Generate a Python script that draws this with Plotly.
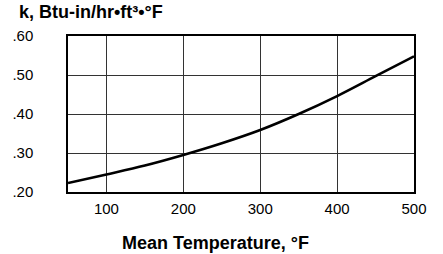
import plotly.graph_objects as go

temps = [50, 100, 150, 200, 250, 300, 350, 400, 450, 500]
k_values = [0.223, 0.245, 0.268, 0.295, 0.325, 0.359, 0.400, 0.446, 0.497, 0.548]
x_ticks = [100, 200, 300, 400, 500]
y_ticks = [0.20, 0.30, 0.40, 0.50, 0.60]
y_tick_labels = [".20", ".30", ".40", ".50", ".60"]

FONT = "Liberation Sans, Arial, sans-serif"
L, R, T, B = 68, 29, 36, 62
W, H = 443, 254
pw, ph = W - L - R, H - T - B

fig = go.Figure()
fig.add_trace(go.Scatter(x=temps, y=k_values, mode="lines",
                         line=dict(color="black", width=2.6, shape="spline"),
                         showlegend=False, hoverinfo="skip"))

fig.update_layout(
    width=W, height=H,
    margin=dict(l=L, r=R, t=T, b=B),
    paper_bgcolor="white", plot_bgcolor="white",
    font=dict(family=FONT, size=15, color="black"),
    xaxis=dict(range=[50, 500], tickvals=x_ticks, showgrid=True,
               gridcolor="#333333", gridwidth=1, zeroline=False,
               showline=True, linecolor="black", linewidth=1.5, mirror=True,
               ticks="", ticklabelstandoff=2, tickfont=dict(size=15)),
    yaxis=dict(range=[0.20, 0.60], tickvals=y_ticks, ticktext=y_tick_labels,
               showgrid=True, gridcolor="#333333", gridwidth=1, zeroline=False,
               showline=True, linecolor="black", linewidth=1.5, mirror=True,
               ticks="", ticklabelstandoff=30, tickfont=dict(size=15)),
    annotations=[
        dict(text="<b>k, Btu-in/hr•ft³•°F</b>", xref="paper", yref="paper",
             x=(17 - L) / pw, y=1 + (T - 12) / ph,
             xanchor="left", yanchor="middle",
             showarrow=False, font=dict(size=18, family=FONT)),
        dict(text="<b>Mean Temperature, °F</b>", xref="paper", yref="paper",
             x=(215 - L) / pw, y=-(243 - (T + ph)) / ph,
             xanchor="center", yanchor="middle",
             showarrow=False, font=dict(size=18, family=FONT)),
    ],
)

fig.write_html("out.html", config={"displayModeBar": False},
               post_script="document.body.style.margin='0';document.body.style.padding='0';")
